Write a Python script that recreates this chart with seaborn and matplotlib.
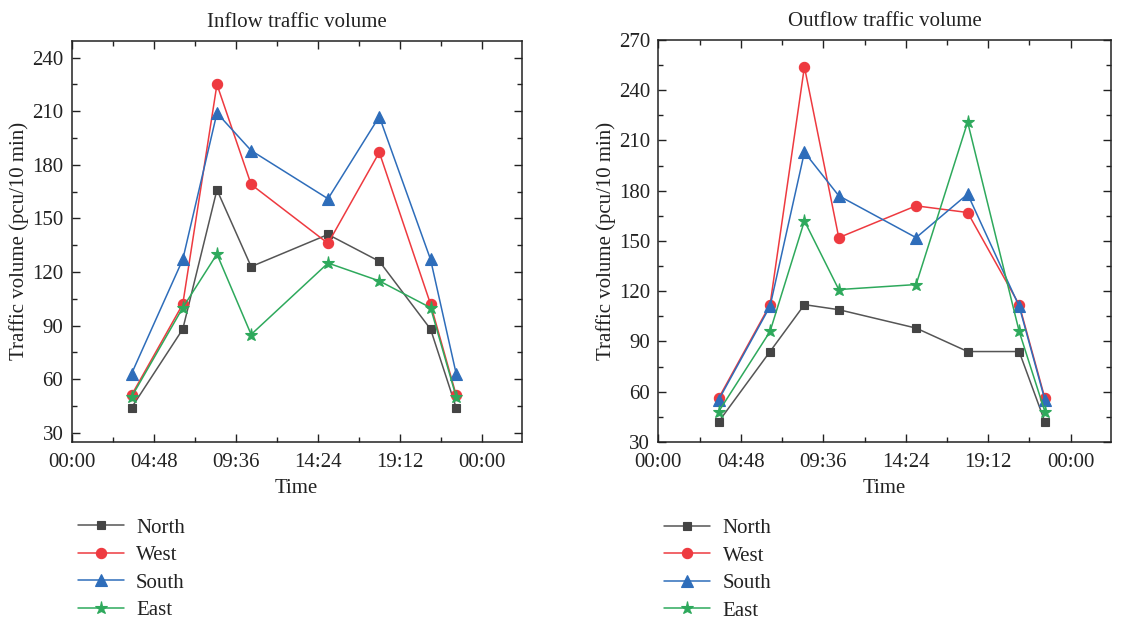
import numpy as np
import pandas as pd
import matplotlib
matplotlib.use("Agg")
import matplotlib.pyplot as plt
import seaborn as sns
from matplotlib.ticker import FixedLocator, MultipleLocator, FuncFormatter

# ---- data ----
hours = [3.5, 6.5, 8.5, 10.5, 15.0, 18.0, 21.0, 22.5]
directions = ["North", "West", "South", "East"]

in_north = [44, 88, 166, 123, 141, 126, 88, 44]
in_west = [51, 102, 225, 169, 136, 187, 102, 51]
in_south = [63, 127, 209, 188, 161, 207, 127, 63]
in_east = [50, 100, 130, 85, 125, 115, 100, 50]

out_north = [42, 84, 112, 109, 98, 84, 84, 42]
out_west = [56, 112, 254, 152, 171, 167, 112, 56]
out_south = [55, 111, 203, 177, 152, 178, 111, 55]
out_east = [48, 96, 162, 121, 124, 221, 96, 48]

tick_hours = [0, 4.8, 9.6, 14.4, 19.2, 24.0]
tick_labels = ["00:00", "04:48", "09:36", "14:24", "19:12", "00:00"]

titles = ["Inflow traffic volume", "Outflow traffic volume"]

# ---- style ----
sns.set_style("ticks")
plt.rcParams["font.family"] = ["Liberation Serif", "DejaVu Serif"]
plt.rcParams["mathtext.fontset"] = "stix"

colors = {"North": "#444444", "West": "#EE3A40", "South": "#2E6DBA", "East": "#2EA95C"}
line_colors = {"North": "#555555", "West": "#EE3A40", "South": "#2E6DBA", "East": "#2EA95C"}
markers = {"North": "s", "West": "o", "South": "^", "East": "*"}
msizes = {"North": 6.2, "West": 7.4, "South": 8.0, "East": 9.5}


def long_frame(vals):
    rows = []
    for d, v in zip(directions, vals):
        for h, y in zip(hours, v):
            rows.append({"Hour": h, "Volume": y, "Direction": d})
    return pd.DataFrame(rows)


df_in = long_frame([in_north, in_west, in_south, in_east])
df_out = long_frame([out_north, out_west, out_south, out_east])

fig = plt.figure(figsize=(11.47, 6.20), dpi=100)
ax1 = fig.add_axes([0.0625, 0.2876, 0.3923, 0.6468])
ax2 = fig.add_axes([0.574, 0.2871, 0.3944, 0.6484])

ylims = [(25, 249.5), (30, 270)]
yticks = [np.arange(30, 241, 30), np.arange(30, 271, 30)]

for ax, df, title, yl, yt in zip([ax1, ax2], [df_in, df_out], titles, ylims, yticks):
    for d in directions:
        sub = df[df["Direction"] == d]
        sns.lineplot(data=sub, x="Hour", y="Volume", ax=ax, color=line_colors[d],
                     marker=markers[d], markersize=msizes[d], markerfacecolor=colors[d],
                     markeredgecolor=colors[d], markeredgewidth=0.8,
                     linewidth=1.1, label=d, legend=False)
    ax.set_xlim(0, 26.33)
    ax.set_ylim(*yl)
    ax.xaxis.set_major_locator(FixedLocator(tick_hours))
    ax.xaxis.set_major_formatter(FuncFormatter(
        lambda v, p: tick_labels[tick_hours.index(min(tick_hours, key=lambda t: abs(t - v)))]))
    ax.xaxis.set_minor_locator(FixedLocator([2.4, 7.2, 12.0, 16.8, 21.6, 26.4]))
    ax.set_yticks(yt)
    ax.yaxis.set_minor_locator(MultipleLocator(15))
    ax.tick_params(which="both", direction="in", top=True, right=True, labelsize=15,
                   color="#222222", labelcolor="#222222", width=1.0)
    ax.tick_params(which="major", length=6)
    ax.tick_params(which="minor", length=3.5)
    ax.tick_params(axis="x", which="major", pad=8)
    ax.tick_params(axis="y", which="major", pad=6)
    for s in ax.spines.values():
        s.set_linewidth(1.1)
        s.set_color("#222222")
    ax.set_title(title, fontsize=15, pad=10, color="#222222")
    ax.set_xlabel("Time", fontsize=15, color="#222222", labelpad=5)
    ax.set_ylabel("Traffic volume (pcu/10 min)", fontsize=15, color="#222222", labelpad=2)
    ax.grid(False)
    h, l = ax.get_legend_handles_labels()
    ax.legend(h, l, loc="upper left", bbox_to_anchor=(-0.005, -0.17), frameon=False,
              fontsize=15, handlelength=2.2, handletextpad=0.6, labelspacing=0.38,
              borderaxespad=0.0, labelcolor="#222222")

fig.savefig("out.png", dpi=100)
